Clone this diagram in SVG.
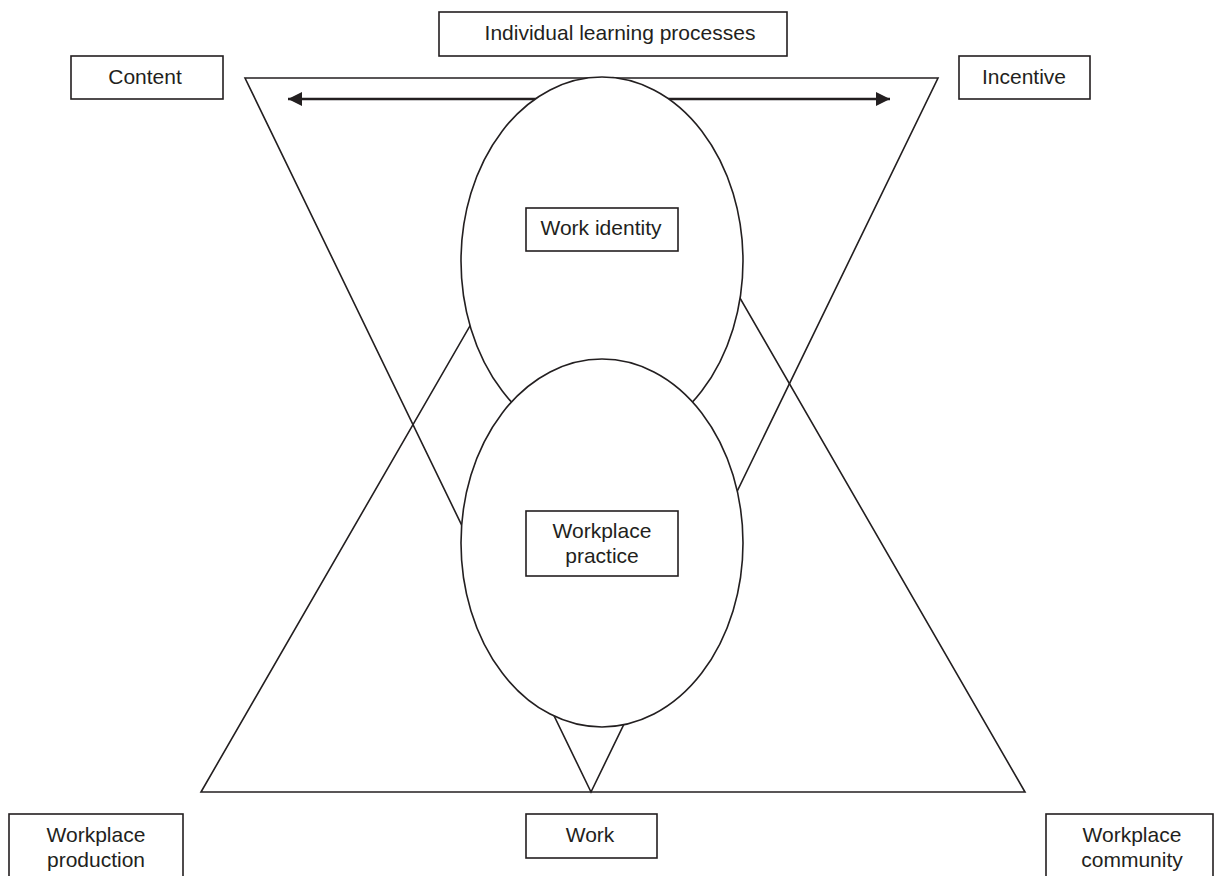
<svg xmlns="http://www.w3.org/2000/svg" width="1214" height="876" viewBox="0 0 1214 876">
<style>
.ln{fill:none;stroke:#231f20;stroke-width:1.6;stroke-linejoin:miter}
.el{fill:#ffffff;stroke:#231f20;stroke-width:1.6}
.bx{fill:#ffffff;stroke:#231f20;stroke-width:1.6}
.tx{font-family:"Liberation Sans",Arial,sans-serif;font-size:21px;fill:#231f20;text-anchor:middle}
</style>
<defs>
<marker id="ah" markerUnits="userSpaceOnUse" markerWidth="16" markerHeight="16" refX="14" refY="7" orient="auto-start-reverse">
<path d="M0,0 L14,7 L0,14 Z" fill="#231f20"/>
</marker>
</defs>
<rect width="1214" height="876" fill="#ffffff"/>
<g id="connectors">
<polygon class="ln" points="245,78 938,78 591,792"/>
<polygon class="ln" points="201,792 1025,792 613,78"/>
<line x1="288" y1="99" x2="890" y2="99" stroke="#231f20" stroke-width="2.6" marker-start="url(#ah)" marker-end="url(#ah)"/>
</g>
<g id="work-identity">
<ellipse class="el" cx="602" cy="261" rx="141" ry="184"/>
<rect class="bx" x="526" y="208" width="152" height="43"/>
<text class="tx" x="601" y="235">Work identity</text>
</g>
<g id="workplace-practice">
<ellipse class="el" cx="602" cy="543" rx="141" ry="184"/>
<rect class="bx" x="526" y="511" width="152" height="65"/>
<text class="tx" x="602" y="538">Workplace</text>
<text class="tx" x="602" y="563">practice</text>
</g>
<g id="individual-learning">
<rect class="bx" x="439" y="12" width="348" height="44"/>
<text class="tx" x="620" y="40">Individual learning processes</text>
</g>
<g id="content">
<rect class="bx" x="71" y="56" width="152" height="43"/>
<text class="tx" x="145" y="84">Content</text>
</g>
<g id="incentive">
<rect class="bx" x="959" y="56" width="131" height="43"/>
<text class="tx" x="1024" y="84">Incentive</text>
</g>
<g id="workplace-production">
<rect class="bx" x="9" y="814" width="174" height="70"/>
<text class="tx" x="96" y="842">Workplace</text>
<text class="tx" x="96" y="867">production</text>
</g>
<g id="work">
<rect class="bx" x="526" y="814" width="131" height="44"/>
<text class="tx" x="590" y="842">Work</text>
</g>
<g id="workplace-community">
<rect class="bx" x="1046" y="814" width="167" height="70"/>
<text class="tx" x="1132" y="842">Workplace</text>
<text class="tx" x="1132" y="867">community</text>
</g>
</svg>
